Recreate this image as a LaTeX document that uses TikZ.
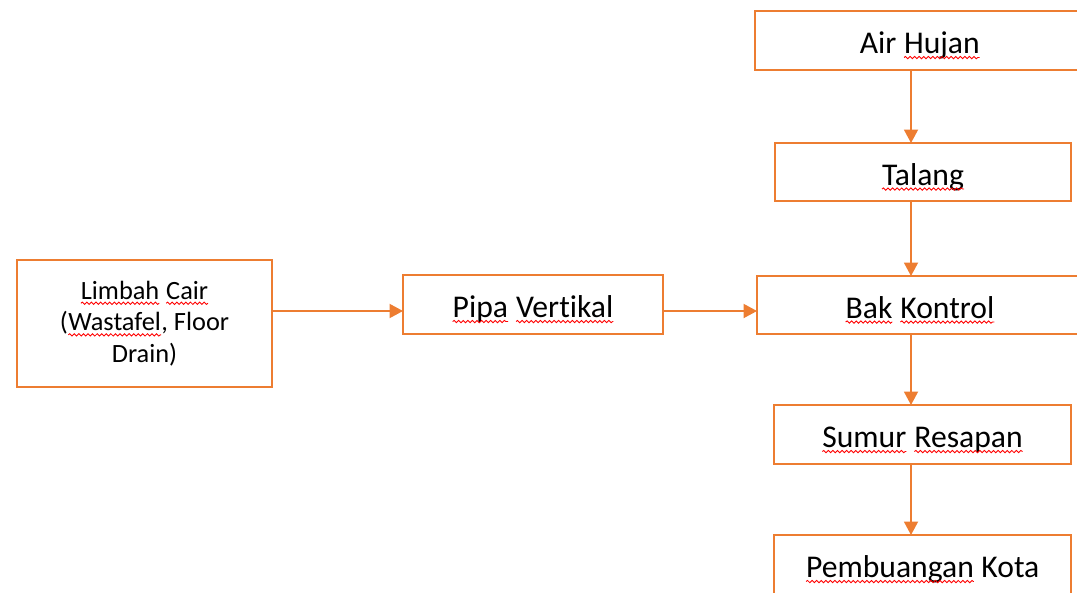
\documentclass[tikz,border=0pt]{standalone}
\usepackage{fontspec}
\setmainfont{Carlito}[Ligatures=CommonOff]
\usepackage{xcolor}
\usepackage{tikz}
\usetikzlibrary{arrows.meta, positioning, decorations.pathmorphing}
\definecolor{pipeorange}{RGB}{237, 125, 49}
\tikzset{
  wordnode/.style={inner sep=0pt, outer sep=0pt, minimum width=0pt, minimum height=0pt, draw=none, fill=none, align=left, text width=, text height=, text depth=},
  squiggle/.style={red, line width=0.5pt, decorate, decoration={snake, amplitude=0.65pt, segment length=2.6pt}}
}
\newcommand{\sq}[1]{\tikz[baseline=(w.base), x=1cm, y=1cm]{\node[wordnode] (w) {#1};
  \draw[squiggle] ([yshift=-2.3pt]w.base west) -- ([yshift=-2.3pt]w.base east);}}

\begin{document}
\begin{tikzpicture}[
  x=0.02cm, y=-0.02cm,
  box/.style={draw=pipeorange, line width=1.1pt, fill=white, align=center, inner sep=0pt, outer sep=0pt, minimum width=5.94cm, minimum height=1.18cm, font=\fontsize{18}{21}\selectfont, text height=18pt, text depth=3.2pt},
  arrow/.style={-{Triangle[length=0.27cm, width=0.28cm]}, line width=1.1pt, color=pipeorange}
]
  \useasboundingbox (0,0) rectangle (1077,592);
  \clip (0,0) rectangle (1077,592);

  \node[box, minimum width=6.6cm] (air) at (920, 40.5) {Air \sq{Hujan}};
  \node[box, minimum width=5.92cm, minimum height=1.16cm] (talang) at (923, 172) {\sq{Talang}};
  \node[box, minimum width=6.52cm, minimum height=1.16cm] (bak) at (920, 305) {\sq{Bak} \sq{Kontrol}};
  \node[box] (sumur) at (922.5, 434.5) {\sq{Sumur} \sq{Resapan}};
  \node[box] (kota) at (922.5, 564.5) {\sq{Pembuangan} Kota};

  \node[box, minimum width=5.1cm, minimum height=2.54cm, font=\fontsize{15}{18}\selectfont, text height=, text depth=] (limbah) at (144.5, 323.5) {\sq{Limbah} \sq{Cair}\\(\sq{Wastafel}, Floor\\Drain)};
  \node[box, minimum width=5.2cm] (pipa) at (533, 304.5) {\sq{Pipa} \sq{Vertikal}};

  \coordinate (row) at (0, 311);
  \coordinate (col) at (911, 0);

  \draw[arrow] (limbah.east |- row) -- (pipa.west |- row);
  \draw[arrow] (pipa.east |- row) -- (bak.west |- row);
  \draw[arrow] (air.south -| col) -- (talang.north -| col);
  \draw[arrow] (talang.south -| col) -- (bak.north -| col);
  \draw[arrow] (bak.south -| col) -- (sumur.north -| col);
  \draw[arrow] (sumur.south -| col) -- (kota.north -| col);

\end{tikzpicture}
\end{document}
